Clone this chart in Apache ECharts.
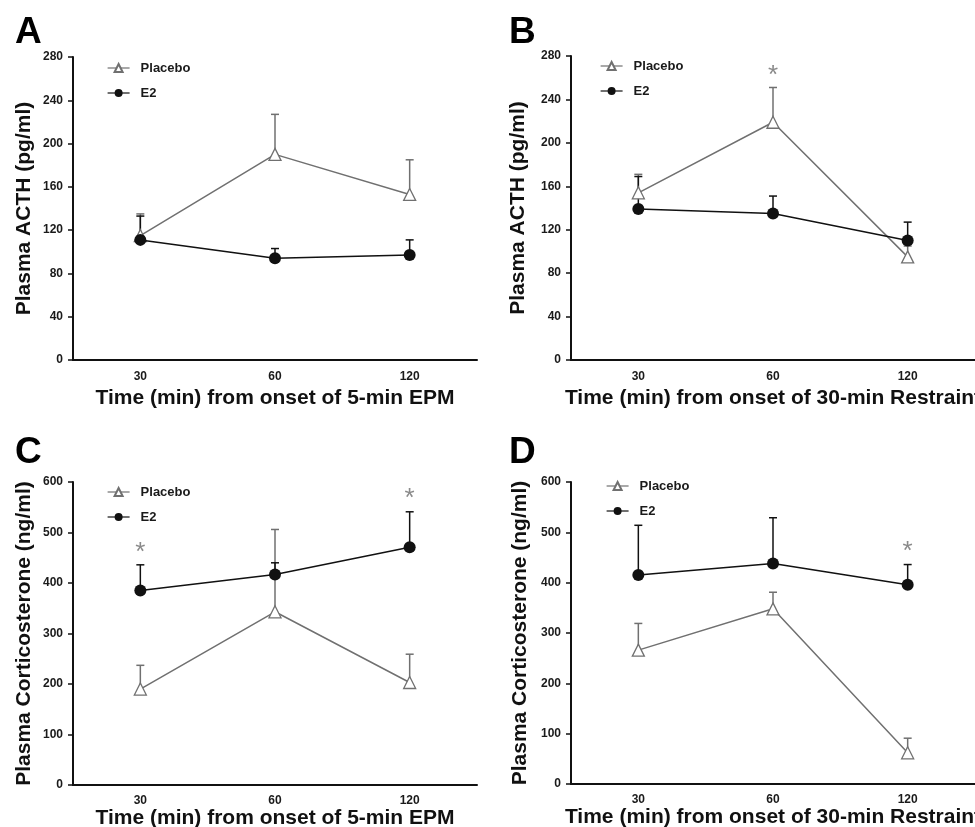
<!DOCTYPE html>
<html>
<head>
<meta charset="utf-8">
<script src="https://cdn.jsdelivr.net/npm/echarts@6/dist/echarts.min.js"></script>
<style>
    html, body { margin: 0; padding: 0; background: #fff; }
    #main { width: 975px; height: 827px; }
</style>
</head>
<body>
<div id="main"></div>
<script>
// x categories (minutes)
var times = ['30', '60', '120'];

// A: ACTH after 5-min EPM
var placeboActhEpm    = [115, 190, 153];
var placeboActhEpmSem = [20, 37, 32];
var e2ActhEpm         = [111, 94, 97];
var e2ActhEpmSem      = [22, 9, 14];
var starsActhEpm      = [];

// B: ACTH after 30-min restraint
var placeboActhRes    = [154, 219, 95];
var placeboActhResSem = [17, 32, 10];
var e2ActhRes         = [139, 135, 110];
var e2ActhResSem      = [30, 16, 17];
var starsActhRes      = [[1, 266]];

// C: corticosterone after 5-min EPM
var placeboCortEpm    = [190, 343, 203];
var placeboCortEpmSem = [47, 163, 56];
var e2CortEpm         = [385, 417, 471];
var e2CortEpmSem      = [51, 23, 70];
var starsCortEpm      = [[0, 469], [2, 577]];

// D: corticosterone after 30-min restraint
var placeboCortRes    = [266, 348, 62];
var placeboCortResSem = [53, 33, 29];
var e2CortRes         = [415, 438, 396];
var e2CortResSem      = [99, 91, 40];
var starsCortRes      = [[2, 471]];

var font     = "'Liberation Sans', Arial, Helvetica, sans-serif";
var axisCol  = '#111';
var greyCol  = '#707070';
var blackCol = '#111';

// error bar (upper half only) as custom series
function errRender( color ) {
    return function ( params, api ) {
        var p0 = api.coord( [ api.value(0), api.value(1) ] );
        var p1 = api.coord( [ api.value(0), api.value(2) ] );
        return {
            type: 'group',
            children: [
                { type: 'line', shape: { x1: p0[0], y1: p0[1], x2: p1[0], y2: p1[1] }, style: { stroke: color, lineWidth: 1.5 } },
                { type: 'line', shape: { x1: p1[0] - 4, y1: p1[1], x2: p1[0] + 4, y2: p1[1] }, style: { stroke: color, lineWidth: 1.5 } }
            ]
        };
    };
}
// significance asterisk
function starRender( params, api ) {
    var p = api.coord( [ api.value(0), api.value(1) ] );
    return {
        type: 'text',
        x: p[0], y: p[1] + 5,
        style: { text: '*', fontSize: 26, fontFamily: font, fill: '#8a8a8a', align: 'center', verticalAlign: 'middle' }
    };
}
function errData( mean, sem ) {
    var out = [];
    for ( var i = 0; i < mean.length; i++ ) {
        out.push( [ i, mean[ i ], mean[ i ] + sem[ i ] ] );
    }
    return out;
}

var grids = [], xAxes = [], yAxes = [], legends = [], series = [], graphics = [];

function addPanel( idx, p ) {
    grids.push( { left: p.left, top: p.top, width: 404, height: p.height, outerBoundsMode: 'none' } );
    xAxes.push( {
        type: 'category', gridIndex: idx, data: times, boundaryGap: true,
        name: p.xName, nameLocation: 'middle', nameGap: p.xGap,
        nameTextStyle: { fontFamily: font, fontWeight: 'bold', fontSize: 21, color: axisCol },
        axisLine: { lineStyle: { color: axisCol, width: 2 } },
        axisTick: { alignWithLabel: true, length: 5, lineStyle: { color: axisCol, width: 1.5 } },
        axisLabel: { margin: p.xMargin, fontFamily: font, fontWeight: 'bold', fontSize: 12, color: '#1a1a1a' },
        splitLine: { show: false }
    } );
    yAxes.push( {
        type: 'value', gridIndex: idx, min: 0, max: p.max, interval: p.interval,
        name: p.yName, nameLocation: 'middle', nameRotate: 90, nameGap: p.yGap,
        nameTextStyle: { fontFamily: font, fontWeight: 'bold', fontSize: 21, color: axisCol },
        axisLine: { show: true, lineStyle: { color: axisCol, width: 2 } },
        axisTick: { show: true, length: 5, lineStyle: { color: axisCol, width: 1.5 } },
        axisLabel: { margin: 10, fontFamily: font, fontWeight: 'bold', fontSize: 12, color: '#1a1a1a' },
        splitLine: { show: false }
    } );
    legends.push( {
        orient: 'vertical', left: p.legLeft, top: p.legTop, padding: 0,
        itemWidth: 22, itemHeight: 10, itemGap: 12,
        lineStyle: { width: 1.2 },
        data: [ 'Placebo', 'E2' ],
        textStyle: { fontFamily: font, fontWeight: 'bold', fontSize: 13, color: '#1a1a1a', padding: [ 0, 0, 0, 6 ] }
    } );
    // error bars first so markers sit on top
    series.push( {
        type: 'custom', xAxisIndex: idx, yAxisIndex: idx, z: 1,
        renderItem: errRender( greyCol ), encode: { x: 0, y: [ 1, 2 ] },
        data: errData( p.placebo, p.placeboSem ), silent: true
    } );
    series.push( {
        type: 'custom', xAxisIndex: idx, yAxisIndex: idx, z: 1,
        renderItem: errRender( blackCol ), encode: { x: 0, y: [ 1, 2 ] },
        data: errData( p.e2, p.e2Sem ), silent: true
    } );
    series.push( {
        name: 'Placebo', type: 'line', xAxisIndex: idx, yAxisIndex: idx, z: 3,
        data: p.placebo, symbol: 'triangle', symbolSize: 12,
        itemStyle: { color: '#fff', borderColor: greyCol, borderWidth: 1.3 },
        lineStyle: { color: greyCol, width: 1.5 }
    } );
    series.push( {
        name: 'E2', type: 'line', xAxisIndex: idx, yAxisIndex: idx, z: 4,
        data: p.e2, symbol: 'circle', symbolSize: 12,
        itemStyle: { color: blackCol },
        lineStyle: { color: blackCol, width: 1.5 }
    } );
    if ( p.stars.length ) {
        series.push( {
            type: 'custom', xAxisIndex: idx, yAxisIndex: idx, z: 5,
            renderItem: starRender, encode: { x: 0, y: 1 },
            data: p.stars, silent: true
        } );
    }
    graphics.push( {
        type: 'text', left: p.letterX, top: p.letterY,
        style: { text: p.letter, fontFamily: font, fontWeight: 'bold', fontSize: 37, fill: '#000' }
    } );
}

addPanel( 0, {
    left: 73, top: 57, height: 303, max: 280, interval: 40,
    yName: 'Plasma ACTH (pg/ml)', yGap: 38,
    xName: 'Time (min) from onset of 5-min EPM', xGap: 28, xMargin: 11,
    legLeft: 107, legTop: 61.5,
    placebo: placeboActhEpm, placeboSem: placeboActhEpmSem, e2: e2ActhEpm, e2Sem: e2ActhEpmSem,
    stars: starsActhEpm, letter: 'A', letterX: 15, letterY: 14
} );
addPanel( 1, {
    left: 571, top: 56, height: 304, max: 280, interval: 40,
    yName: 'Plasma ACTH (pg/ml)', yGap: 42,
    xName: 'Time (min) from onset of 30-min Restraint', xGap: 28, xMargin: 11,
    legLeft: 600, legTop: 59.5,
    placebo: placeboActhRes, placeboSem: placeboActhResSem, e2: e2ActhRes, e2Sem: e2ActhResSem,
    stars: starsActhRes, letter: 'B', letterX: 509, letterY: 14
} );
addPanel( 2, {
    left: 73, top: 482, height: 303, max: 600, interval: 100,
    yName: 'Plasma Corticosterone (ng/ml)', yGap: 38,
    xName: 'Time (min) from onset of 5-min EPM', xGap: 23, xMargin: 10,
    legLeft: 107, legTop: 485.5,
    placebo: placeboCortEpm, placeboSem: placeboCortEpmSem, e2: e2CortEpm, e2Sem: e2CortEpmSem,
    stars: starsCortEpm, letter: 'C', letterX: 15, letterY: 434
} );
addPanel( 3, {
    left: 571, top: 482, height: 302, max: 600, interval: 100,
    yName: 'Plasma Corticosterone (ng/ml)', yGap: 40,
    xName: 'Time (min) from onset of 30-min Restraint', xGap: 23, xMargin: 10,
    legLeft: 606, legTop: 479.5,
    placebo: placeboCortRes, placeboSem: placeboCortResSem, e2: e2CortRes, e2Sem: e2CortResSem,
    stars: starsCortRes, letter: 'D', letterX: 509, letterY: 434
} );

var myChart = echarts.init( document.getElementById( 'main' ) );
myChart.setOption( {
    animation: false,
    backgroundColor: '#fff',
    grid: grids,
    xAxis: xAxes,
    yAxis: yAxes,
    legend: legends,
    series: series,
    graphic: graphics
} );
</script>
</body>
</html>
